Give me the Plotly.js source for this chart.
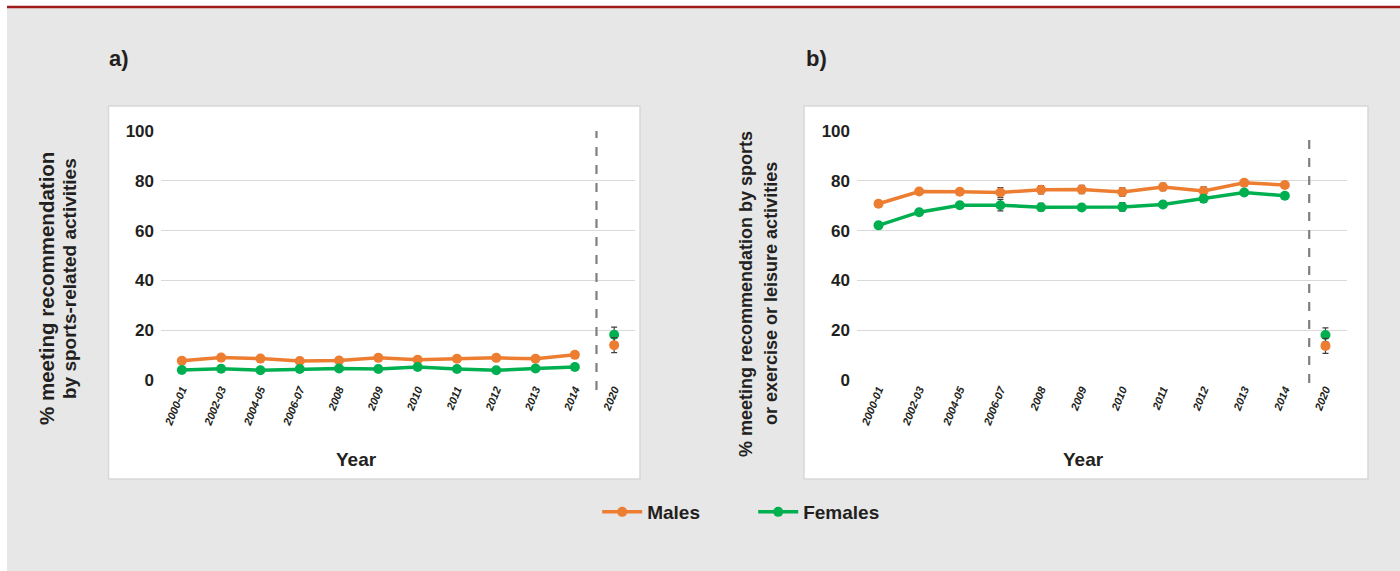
<!DOCTYPE html>
<html>
<head>
<meta charset="utf-8">
<script src="https://cdn.plot.ly/plotly-3.0.1.min.js"></script>
<style>html,body{margin:0;padding:0;background:#fff;}#chart{width:1400px;height:571px;}</style>
</head>
<body>
<div id="chart"></div>
<script>
// ---- data ----
const years = ["2000-01","2002-03","2004-05","2006-07","2008","2009","2010","2011","2012","2013","2014"];
const yearNew = ["2020"];
const allCats = years.concat(yearNew);

// Panel a: sports-related activities
const sportMales   = [7.7, 9.0, 8.6, 7.6, 7.8, 8.9, 8.1, 8.5, 8.9, 8.5, 10.1];
const sportMalesErr = [0.6, 0.6, 0.6, 0.6, 0.6, 0.6, 0.6, 0.6, 0.6, 0.6, 0.6];
const sportFemales = [4.0, 4.5, 3.9, 4.4, 4.6, 4.4, 5.2, 4.4, 3.9, 4.6, 5.2];
const sportFemalesErr = [0.4, 0.4, 0.4, 0.4, 0.4, 0.4, 0.4, 0.4, 0.4, 0.4, 0.4];
const sport2020Males = [14.0], sport2020MalesErr = [3.0];
const sport2020Females = [18.2], sport2020FemalesErr = [3.0];

// Panel b: sports or exercise or leisure activities
const leisMales   = [70.8, 75.7, 75.6, 75.3, 76.4, 76.5, 75.5, 77.5, 75.9, 79.2, 78.3];
const leisMalesErr = [1.2, 1.0, 1.0, 2.0, 1.7, 1.7, 1.7, 1.5, 1.7, 1.3, 1.2];
const leisFemales = [62.1, 67.4, 70.2, 70.2, 69.4, 69.3, 69.5, 70.5, 72.8, 75.3, 74.0];
const leisFemalesErr = [1.0, 1.0, 1.2, 2.3, 1.5, 1.2, 1.7, 1.2, 1.5, 1.2, 1.2];
const leis2020Males = [13.7], leis2020MalesErr = [3.0];
const leis2020Females = [18.1], leis2020FemalesErr = [2.8];

const seriesNames = ["Males", "Females"];
const yTitleA = ["% meeting recommendation", "by sports-related activities"];
const yTitleB = ["% meeting recommendation by sports", "or exercise or leisure activities"];
const xTitle = "Year";
const panelLabels = ["a)", "b)"];

// ---- styling ----
const W = 1400, H = 571;
const px = x => x / W;
const py = y => 1 - y / H;
const ORANGE = "#ed7d31", GREEN = "#00b050", ERR = "#404040";
const FONT = "Liberation Sans, Arial, sans-serif";
const TXT = "#231f20";

function err(arr) { return {type: "data", array: arr, visible: true, color: ERR, thickness: 1.2, width: 3}; }
function lineTrace(x, y, e, color, name, xa, ya, showleg) {
  return {x: x, y: y, type: "scatter", mode: "lines+markers", name: name, showlegend: showleg,
    xaxis: xa, yaxis: ya, line: {color: color, width: 3.5}, marker: {color: color, size: 10},
    error_y: err(e), hoverinfo: "x+y"};
}
function ptTrace(x, y, e, color, name, xa, ya) {
  return {x: x, y: y, type: "scatter", mode: "markers", name: name, showlegend: false,
    xaxis: xa, yaxis: ya, marker: {color: color, size: 10}, error_y: err(e)};
}

const data = [
  lineTrace(years, sportMales, sportMalesErr, ORANGE, seriesNames[0], "x", "y", true),
  lineTrace(years, sportFemales, sportFemalesErr, GREEN, seriesNames[1], "x", "y", true),
  ptTrace(yearNew, sport2020Females, sport2020FemalesErr, GREEN, seriesNames[1], "x", "y"),
  ptTrace(yearNew, sport2020Males, sport2020MalesErr, ORANGE, seriesNames[0], "x", "y"),
  lineTrace(years, leisMales, leisMalesErr, ORANGE, seriesNames[0], "x2", "y2", false),
  lineTrace(years, leisFemales, leisFemalesErr, GREEN, seriesNames[1], "x2", "y2", false),
  ptTrace(yearNew, leis2020Females, leis2020FemalesErr, GREEN, seriesNames[1], "x2", "y2"),
  ptTrace(yearNew, leis2020Males, leis2020MalesErr, ORANGE, seriesNames[0], "x2", "y2")
];

const xaxisBase = {
  type: "category", categoryorder: "array", categoryarray: allCats,
  range: [-0.53, 11.53], showgrid: false, zeroline: false, showline: false, ticks: "",
  tickangle: -68, tickfont: {family: FONT, size: 11, color: TXT, weight: "bold", style: "italic"},
  fixedrange: true
};
const yaxisBase = {
  range: [0, 100], dtick: 20, tick0: 0, showgrid: true, gridcolor: "#d9d9d9", gridwidth: 1.2,
  zeroline: false, showline: false, ticks: "", ticklabelstandoff: 6,
  tickfont: {family: FONT, size: 17, color: TXT, weight: "bold"}, fixedrange: true
};

function titleLine(text, x, y, size) {
  return {text: text, xref: "paper", yref: "paper", x: px(x), y: py(y), xanchor: "center", yanchor: "middle",
    textangle: -90, showarrow: false, font: {family: FONT, size: size, color: TXT, weight: "bold"}};
}

const yDom = [py(380), py(131)];
const layout = {
  width: W, height: H,
  margin: {l: 0, r: 0, t: 0, b: 0},
  paper_bgcolor: "#ffffff",
  plot_bgcolor: "rgba(0,0,0,0)",
  showlegend: true,
  legend: {orientation: "h", x: 0.538, xanchor: "center", y: py(512), yanchor: "middle",
    font: {family: FONT, size: 19, color: TXT, weight: "bold"}, bgcolor: "rgba(0,0,0,0)",
    itemwidth: 40, entrywidth: 101, traceorder: "normal"},
  xaxis: Object.assign({}, xaxisBase, {domain: [px(161), px(635)], anchor: "y"}),
  yaxis: Object.assign({}, yaxisBase, {domain: yDom, anchor: "x"}),
  xaxis2: Object.assign({}, xaxisBase, {domain: [px(857), px(1347)], anchor: "y2"}),
  yaxis2: Object.assign({}, yaxisBase, {domain: yDom, anchor: "x2"}),
  shapes: [
    {type: "rect", xref: "paper", yref: "paper", x0: px(7), x1: 1, y0: 0, y1: py(8), fillcolor: "#e6e7e6", line: {width: 0}, layer: "below"},
    {type: "line", xref: "paper", yref: "paper", x0: px(7), x1: 1, y0: py(7), y1: py(7), line: {color: "#9e1b1b", width: 2.5}, layer: "below"},
    {type: "rect", xref: "paper", yref: "paper", x0: px(108.5), x1: px(640), y0: py(479), y1: py(106), fillcolor: "#ffffff", line: {color: "#d8d8d8", width: 1.5}, layer: "below"},
    {type: "rect", xref: "paper", yref: "paper", x0: px(804), x1: px(1368), y0: py(479), y1: py(106), fillcolor: "#ffffff", line: {color: "#d8d8d8", width: 1.5}, layer: "below"},
    {type: "line", xref: "x", yref: "paper", x0: 10.55, x1: 10.55, y0: py(390), y1: py(131), line: {color: "#7f7f7f", width: 2.2, dash: "dash"}},
    {type: "line", xref: "x2", yref: "paper", x0: 10.6, x1: 10.6, y0: py(383), y1: py(131), line: {color: "#7f7f7f", width: 2.2, dash: "dash"}}
  ],
  annotations: [
    {text: panelLabels[0], xref: "paper", yref: "paper", x: px(107), y: py(58), xanchor: "left", yanchor: "middle", showarrow: false, font: {family: FONT, size: 22, color: TXT, weight: "bold"}},
    {text: panelLabels[1], xref: "paper", yref: "paper", x: px(804), y: py(58), xanchor: "left", yanchor: "middle", showarrow: false, font: {family: FONT, size: 22, color: TXT, weight: "bold"}},
    titleLine(yTitleA[0], 46, 289, 20.5),
    titleLine(yTitleA[1], 69, 279, 19),
    titleLine(yTitleB[0], 746, 294, 18),
    titleLine(yTitleB[1], 771, 294, 18),
    {text: xTitle, xref: "paper", yref: "paper", x: px(356), y: py(459), xanchor: "center", yanchor: "middle", showarrow: false, font: {family: FONT, size: 19, color: TXT, weight: "bold"}},
    {text: xTitle, xref: "paper", yref: "paper", x: px(1083), y: py(459), xanchor: "center", yanchor: "middle", showarrow: false, font: {family: FONT, size: 19, color: TXT, weight: "bold"}}
  ]
};

Plotly.newPlot("chart", data, layout, {displayModeBar: false, staticPlot: true});
</script>
</body>
</html>
